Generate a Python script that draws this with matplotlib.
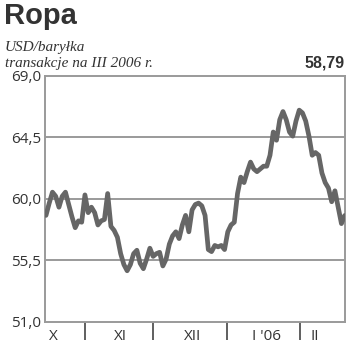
import matplotlib
matplotlib.use("Agg")
import matplotlib.pyplot as plt

# Daily oil prices (USD/barrel), trading-day index 0..92
prices = [58.8, 59.7, 60.5, 60.2, 59.4, 60.2, 60.5, 59.6, 58.7, 57.9,
          58.4, 58.3, 60.3, 59.0, 59.4, 59.0, 58.1, 58.4, 58.5, 60.4,
          58.0, 57.7, 57.2, 56.0, 55.2, 54.75, 55.2, 56.0, 56.25, 55.3,
          54.9, 55.6, 56.4, 55.8, 56.0, 56.1, 55.1, 55.6, 56.7, 57.3,
          57.6, 57.1, 58.1, 58.8, 57.6, 59.2, 59.6, 59.7, 59.5, 58.8,
          56.3, 56.15, 56.6, 56.5, 56.6, 56.3, 57.6, 58.1, 58.3, 60.4,
          61.6, 61.2, 62.0, 62.7, 62.2, 62.0, 62.2, 62.4, 62.4, 63.2,
          64.9, 64.3, 65.8, 66.4, 65.8, 64.9, 64.6, 65.7, 66.5, 66.3,
          65.7, 64.6, 63.2, 63.4, 63.2, 61.9, 61.2, 60.8, 59.8, 60.6,
          59.4, 58.2, 58.79]
days = list(range(len(prices)))

y_ticks = [51.0, 55.5, 60.0, 64.5, 69.0]
y_labels = ["51,0", "55,5", "60,0", "64,5", "69,0"]
month_bounds = [12.0, 32.9, 55.7, 78.2]
month_labels = ["X", "XI", "XII", "I '06", "II"]
month_label_pos = [2.2, 22.8, 45.2, 67.9, 82.8]

title = "Ropa"
subtitle = "USD/baryłka\ntransakcje na III 2006 r."
last_value = "58,79"

W, H = 350, 355
fig = plt.figure(figsize=(W / 100, H / 100), dpi=100)
ax = fig.add_axes([45 / W, (H - 322) / H, 300 / W, 246 / H])

grid_c = "#9a9a9a"
for yv in y_ticks[1:-1]:
    ax.axhline(yv, color=grid_c, lw=1.4, zorder=1)

ax.plot(days, prices, color="#666666", lw=3.4, solid_joinstyle="round",
        solid_capstyle="round", zorder=3)

ax.set_xlim(-0.3, 92.1)
ax.set_ylim(51.0, 69.0)
for s in ax.spines.values():
    s.set_color(grid_c)
    s.set_linewidth(1.4)

ax.set_yticks(y_ticks)
ax.set_yticklabels(y_labels, fontsize=11, color="#333333", family="Open Sans")
ax.tick_params(axis="y", length=0, pad=3)

ax.set_xticks(month_bounds)
ax.set_xticklabels([])
ax.tick_params(axis="x", length=13, width=1.2, color="#444444", direction="out")

for pos, lab in zip(month_label_pos, month_labels):
    ax.text(pos, -0.06, lab, transform=ax.get_xaxis_transform(),
            ha="center", va="center", fontsize=11, color="#333333",
            family="Open Sans")

fig.text(4 / W, 1 - 2 / H, title, ha="left", va="top", fontsize=21,
         fontweight="bold", color="#333333", family="Liberation Sans")
fig.text(5 / W, 1 - 41 / H, subtitle, ha="left", va="top", fontsize=11,
         style="italic", color="#333333", family="Liberation Serif",
         linespacing=1.35)
fig.text(345 / W, 1 - 56 / H, last_value, ha="right", va="top", fontsize=11.5,
         fontweight="bold", color="#333333", family="Liberation Sans")

fig.savefig("out.png", dpi=100)
